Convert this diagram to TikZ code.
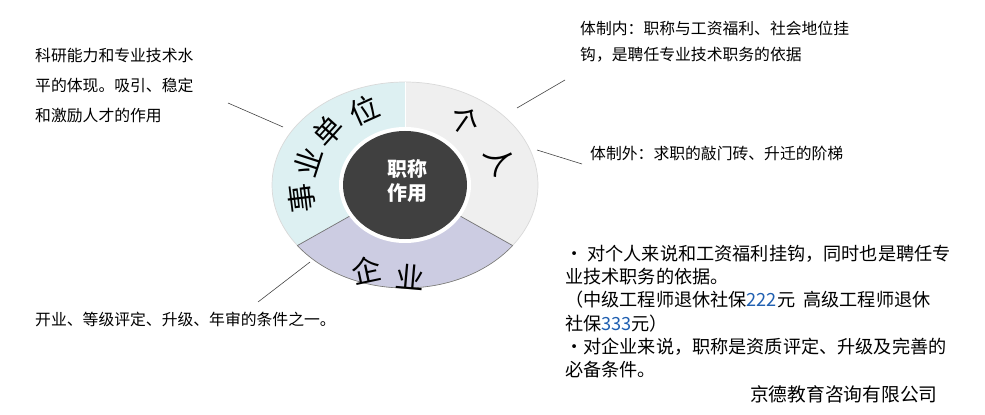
\documentclass[tikz,border=0pt]{standalone}
\usepackage{fontspec}
\setmainfont{Noto Sans CJK SC}
\begin{document}
\begin{tikzpicture}[x=0.03cm,y=0.03cm,
  lbl/.style={font=\fontsize{13.5}{22}\selectfont, anchor=north west, inner sep=0pt, align=left},
  seg/.style={font=\fontsize{25}{25}\selectfont, inner sep=0pt},
  conn/.style={draw=black!75, line width=0.5pt}]
\useasboundingbox (0,0) rectangle (985,414);
\definecolor{tealc}{HTML}{DDF0F2}
\definecolor{grayc}{HTML}{EFEFEF}
\definecolor{lavc}{HTML}{CCCCE2}
\definecolor{darkc}{HTML}{404040}
\definecolor{numblue}{HTML}{1F5FB0}
\coordinate (c) at (405,229);
% sectors
\fill[tealc] (c) ++(90:133 and 103) arc[start angle=90,end angle=216,x radius=133,y radius=103] -- (c) -- cycle;
\fill[grayc] (c) ++(-36:133 and 103) arc[start angle=-36,end angle=90,x radius=133,y radius=103] -- (c) -- cycle;
\fill[lavc] (c) ++(216:133 and 103) arc[start angle=216,end angle=324,x radius=133,y radius=103] -- (c) -- cycle;
\draw[white!85!black,line width=0.6pt] (c) ellipse[x radius=133,y radius=103];
\draw[black!55,line width=0.5pt] (c) ++(216:133 and 103) arc[start angle=216,end angle=324,x radius=133,y radius=103];
\draw[black!55,line width=0.6pt] (c) ++(216:133 and 103) -- (c);
\draw[black!55,line width=0.6pt] (c) ++(324:133 and 103) -- (c);
\draw[white,line width=0.8pt] (c) ++(90:133 and 103) -- (c);
\fill[white] (c) ellipse[x radius=66,y radius=58];
\fill[darkc] (c) ellipse[x radius=62,y radius=54];
\node[text=white,font=\fontsize{17}{21}\selectfont\bfseries,align=center] (ct) at (407,233) {职称\\作用};
% segment labels
\node[seg,rotate=97] (s1) at (302,216) {事};
\node[seg,rotate=72] (s2) at (308,252) {业};
\node[seg,rotate=48] (s3) at (328,283) {单};
\node[seg,rotate=24] (s4) at (364,304) {位};
\node[seg,rotate=-35] (g1) at (465,293) {个};
\node[seg,rotate=-62] (g2) at (500,254) {人};
\node[seg,rotate=12] (q1) at (366,144) {企};
\node[seg,rotate=-5] (q2) at (410,137) {业};
% text
\node[lbl,font=\fontsize{13.5}{25.5}\selectfont] (t1) at (35,366) {科研能力和专业技术水\\平的体现。吸引、稳定\\和激励人才的作用};
\node[lbl] (t2) at (580,393) {体制内：职称与工资福利、社会地位挂\\钩，是聘任专业技术职务的依据};
\node[lbl] (t3) at (590,268) {体制外：求职的敲门砖、升迁的阶梯};
\node[lbl] (t4) at (35,102) {开业、等级评定、升级、年审的条件之一。};
\node[lbl,font=\fontsize{15.5}{19.8}\selectfont] (t5) at (565,169) {•\ 对个人来说和工资福利挂钩，同时也是聘任专\\业技术职务的依据。\\（中级工程师退休社保\textcolor{numblue}{222}元\ \ 高级工程师退休\\社保\textcolor{numblue}{333}元）\\•对企业来说，职称是资质评定、升级及完善的\\必备条件。};
\node[lbl,font=\fontsize{16}{18}\selectfont] (t6) at (750,29) {京德教育咨询有限公司};
% connectors
\coordinate (a1) at (228,311); \coordinate (a2) at (283,287);
\coordinate (b1) at (517,306); \coordinate (b2) at (565,334);
\coordinate (d1) at (537,264); \coordinate (d2) at (582,250);
\coordinate (e1) at (258,112); \coordinate (e2) at (310,152);
\draw[conn] (a1) -- (a2);
\draw[conn] (b1) -- (b2);
\draw[conn] (d1) -- (d2);
\draw[conn] (e1) -- (e2);
\end{tikzpicture}
\end{document}
